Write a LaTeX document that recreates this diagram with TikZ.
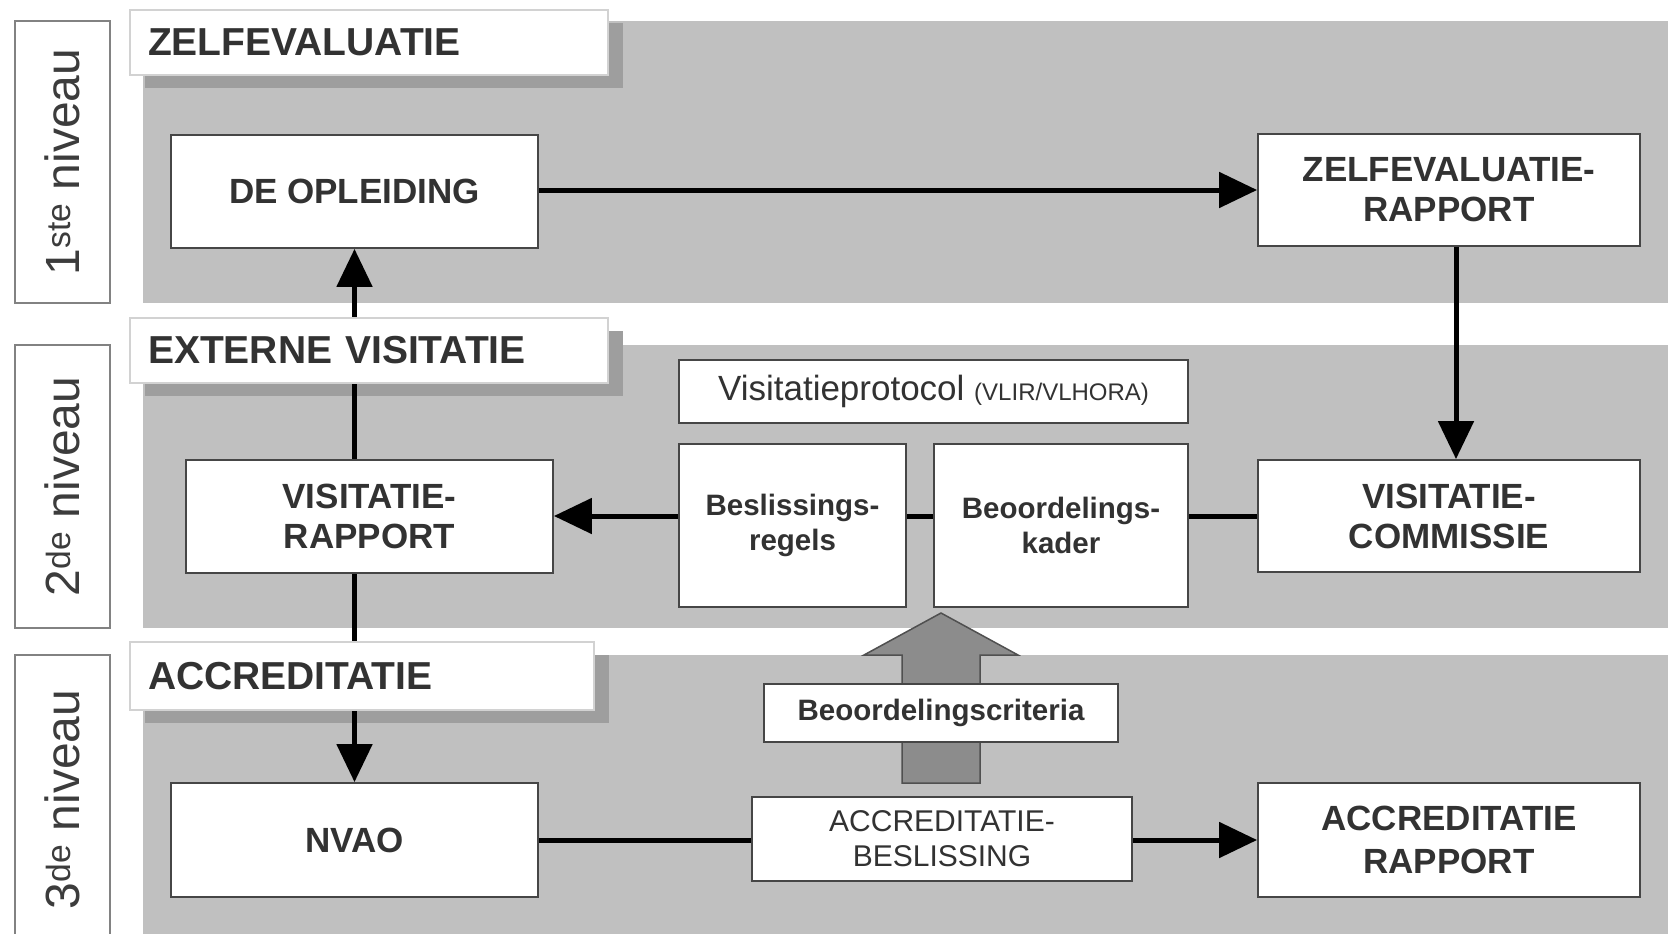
\documentclass[tikz,border=0pt]{standalone}
\usepackage{fontspec}
\setmainfont{Liberation Sans}
\usetikzlibrary{arrows.meta,calc}
\pgfdeclarelayer{bg}
\pgfdeclarelayer{mid}
\pgfsetlayers{bg,mid,main}
\definecolor{band}{RGB}{192,192,192}
\definecolor{shad}{RGB}{158,158,158}
\definecolor{txt}{RGB}{50,50,50}
\definecolor{edge}{RGB}{70,70,70}
\definecolor{tborder}{RGB}{210,210,210}
\definecolor{lborder}{RGB}{130,130,130}
\definecolor{ltxt}{RGB}{60,60,60}
\definecolor{bigarrow}{RGB}{140,140,140}
\definecolor{bigedge}{RGB}{80,80,80}
\begin{document}
\begin{tikzpicture}[x=1pt,y=-1pt,
  box/.style={draw=edge,line width=1.8pt,fill=white,text=txt,inner sep=0pt,align=center,font=\fontsize{35}{40}\selectfont\bfseries},
  sbox/.style={box,font=\fontsize{29.5}{35}\selectfont\bfseries},
  rbox/.style={box,font=\fontsize{30}{35}\selectfont},
  titlebox/.style={draw=tborder,line width=1.5pt,fill=white,text=txt,inner xsep=18pt,inner ysep=0pt,align=left,minimum height=65pt,font=\fontsize{39}{44}\selectfont\bfseries},
  lvl/.style={draw=lborder,line width=2pt,fill=white,text=ltxt,inner sep=0pt,rotate=90,minimum height=95pt,font=\fontsize{48}{50}\selectfont},
  conn/.style={line width=5pt,black},
  arr/.style={conn,-{Triangle[length=38pt,width=35pt]}},
]
\useasboundingbox (0,0) rectangle (1668,934);
\clip (0,0) rectangle (1668,934);

% level labels
\node[lvl,minimum width=282pt] (L1) at (62.5,162) {1\textsuperscript{ste} niveau};
\node[lvl,minimum width=283pt] (L2) at (62.5,486.5) {2\textsuperscript{de} niveau};
\node[lvl,minimum width=289pt] (L3) at (62.5,799.5) {3\textsuperscript{de} niveau};

% titles
\node[titlebox,text width=442pt] (T1) at (369,42.5) {ZELFEVALUATIE};
\node[titlebox,text width=442pt] (T2) at (369,350.5) {EXTERNE VISITATIE};
\node[titlebox,text width=428pt,minimum height=68pt] (T3) at (362,676) {ACCREDITATIE};

% boxes
\node[box,minimum width=367pt,minimum height=113pt] (DO) at (354.5,191.5) {DE OPLEIDING};
\node[box,minimum width=382pt,minimum height=112pt] (ZR) at (1449,190) {ZELFEVALUATIE-\\RAPPORT};
\node[box,minimum width=382pt,minimum height=112pt] (VC) at (1449,516) {VISITATIE-\\COMMISSIE};
\node[box,minimum width=367pt,minimum height=113pt] (VR) at (369.5,516.5) {VISITATIE-\\RAPPORT};
\node[box,minimum width=509pt,minimum height=63pt,font=\fontsize{35}{40}\selectfont] (VP) at (933.5,391.5) {Visitatieprotocol {\fontsize{24}{26}\selectfont(VLIR/VLHORA)}};
\node[sbox,minimum width=227pt,minimum height=163pt] (BR) at (792.5,525.5) {Beslissings-\\regels};
\node[sbox,minimum width=254pt,minimum height=163pt] (BK) at (1061,525.5) {Beoordelings-\\kader};
\node[box,minimum width=367pt,minimum height=114pt] (NV) at (354.5,840) {NVAO};
\node[rbox,minimum width=380pt,minimum height=84pt] (AB) at (942,839) {ACCREDITATIE-\\BESLISSING};
\node[box,minimum width=382pt,minimum height=114pt,font=\fontsize{35}{43}\selectfont\bfseries] (AR) at (1449,840) {ACCREDITATIE\\RAPPORT};
\node[sbox,minimum width=354pt,minimum height=58pt] (BC) at (941,713) {Beoordelingscriteria};

\begin{pgfonlayer}{bg}
  \fill[white] (0,0) rectangle (1668,934);
  \fill[band] (143,21) rectangle (1680,303);
  \fill[band] (143,345) rectangle (1680,628);
  \fill[band] (143,655) rectangle (1680,950);
  \fill[shad] (145,23) rectangle (623,88);
  \fill[shad] (145,331) rectangle (623,396);
  \fill[shad] (145,655) rectangle (609,723);
\end{pgfonlayer}

\begin{pgfonlayer}{mid}
  \filldraw[fill=bigarrow,draw=bigedge,line width=1.5pt]
    (902,783) -- (902,655) -- (864,655) -- (941,613) -- (1018,655) -- (980,655) -- (980,783) -- cycle;
  \draw[arr] (DO.east |- ZR.west) -- (ZR.west);
  \draw[arr] ([xshift=7pt]ZR.south) -- ([xshift=7pt]VC.north);
  \draw[conn] (VC.west) -- (VC.west -| BK.east);
  \draw[conn] (BK.west |- VC.west) -- (BR.east |- VC.west);
  \draw[arr] (BR.west |- VC.west) -- (VR.east |- VC.west);
  \draw[arr] (VR.north -| DO.south) -- (DO.south);
  \draw[arr] (VR.south -| NV.north) -- (NV.north);
  \draw[conn] (NV.east) -- (NV.east -| AB.west);
  \draw[arr] (AB.east |- NV.east) -- (AR.west);
\end{pgfonlayer}
\end{tikzpicture}
\end{document}
